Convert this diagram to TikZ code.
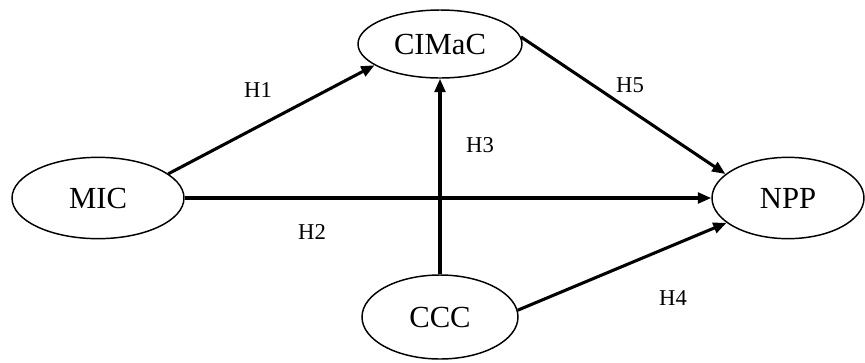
\documentclass[tikz,border=0pt]{standalone}
\usepackage{fontspec}
\setmainfont{Liberation Serif}
\usetikzlibrary{%
  arrows.meta,%
  shapes.geometric,% wg. ellipse
  positioning%
}

\begin{document}
\begin{tikzpicture}
  [
  x=0.75pt, y=-0.75pt,
  line width=1.1pt, draw=black, >={Triangle[length=10pt,width=8pt]},
  construct/.style={ellipse, inner sep = 0pt, draw=black, font=\fontsize{23}{27}\selectfont},
  hpath/.style={->, line width=2.3pt},
  hlabel/.style={inner sep = 0pt, font=\fontsize{17}{20}\selectfont},
  ]
  \useasboundingbox (0,0) rectangle (865,362);

  \node[construct, minimum width=129pt, minimum height=61pt] (MIC) at (98,198) {MIC};
  \node[construct, minimum width=123pt, minimum height=51pt] (CIMaC) at (440,44) {CIMaC};
  \node[construct, minimum width=114pt, minimum height=61pt] (NPP) at (788,198) {NPP};
  \node[construct, minimum width=117pt, minimum height=63pt] (CCC) at (440,317) {CCC};

  \draw[hpath] (MIC.19) -- (CIMaC.198);
  \draw[hpath] (MIC.east) -- (NPP.west);
  \draw[hpath] (CCC.north) -- (CIMaC.south);
  \draw[hpath] (CCC.5) -- (NPP.202);
  \draw[hpath] (CIMaC.5) -- (NPP.159);

  \node[hlabel] (H1) at (258,90) {H1};
  \node[hlabel] (H2) at (312,232) {H2};
  \node[hlabel] (H3) at (480,145) {H3};
  \node[hlabel] (H4) at (673,298) {H4};
  \node[hlabel] (H5) at (630,85) {H5};

\end{tikzpicture}
\end{document}
